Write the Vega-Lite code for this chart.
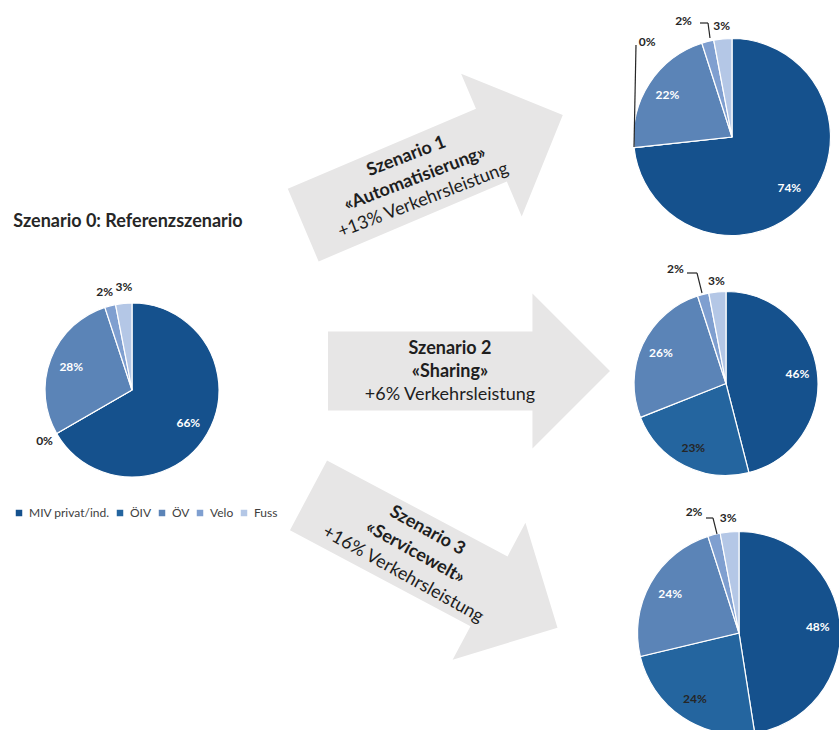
{
  "$schema": "https://vega.github.io/schema/vega-lite/v6.json",
  "width": 839,
  "height": 730,
  "padding": 0,
  "autosize": {"type": "none"},
  "background": "#ffffff",
  "config": {"view": {"stroke": null}, "font": "Lato", "text": {"font": "Lato"}},
  "datasets": {
    "pies": [
      {"scenario": "S0", "side": "Referenz", "row": "2", "mode": "MIV privat/ind.", "idx": 1, "value": 0.66},
      {"scenario": "S0", "side": "Referenz", "row": "2", "mode": "ÖIV", "idx": 2, "value": 0.0},
      {"scenario": "S0", "side": "Referenz", "row": "2", "mode": "ÖV", "idx": 3, "value": 0.28},
      {"scenario": "S0", "side": "Referenz", "row": "2", "mode": "Velo", "idx": 4, "value": 0.02},
      {"scenario": "S0", "side": "Referenz", "row": "2", "mode": "Fuss", "idx": 5, "value": 0.03},
      {"scenario": "S1", "side": "Szenario", "row": "1", "mode": "MIV privat/ind.", "idx": 1, "value": 0.74},
      {"scenario": "S1", "side": "Szenario", "row": "1", "mode": "ÖIV", "idx": 2, "value": 0.0},
      {"scenario": "S1", "side": "Szenario", "row": "1", "mode": "ÖV", "idx": 3, "value": 0.22},
      {"scenario": "S1", "side": "Szenario", "row": "1", "mode": "Velo", "idx": 4, "value": 0.02},
      {"scenario": "S1", "side": "Szenario", "row": "1", "mode": "Fuss", "idx": 5, "value": 0.03},
      {"scenario": "S2", "side": "Szenario", "row": "2", "mode": "MIV privat/ind.", "idx": 1, "value": 0.46},
      {"scenario": "S2", "side": "Szenario", "row": "2", "mode": "ÖIV", "idx": 2, "value": 0.23},
      {"scenario": "S2", "side": "Szenario", "row": "2", "mode": "ÖV", "idx": 3, "value": 0.26},
      {"scenario": "S2", "side": "Szenario", "row": "2", "mode": "Velo", "idx": 4, "value": 0.02},
      {"scenario": "S2", "side": "Szenario", "row": "2", "mode": "Fuss", "idx": 5, "value": 0.03},
      {"scenario": "S3", "side": "Szenario", "row": "3", "mode": "MIV privat/ind.", "idx": 1, "value": 0.48},
      {"scenario": "S3", "side": "Szenario", "row": "3", "mode": "ÖIV", "idx": 2, "value": 0.24},
      {"scenario": "S3", "side": "Szenario", "row": "3", "mode": "ÖV", "idx": 3, "value": 0.24},
      {"scenario": "S3", "side": "Szenario", "row": "3", "mode": "Velo", "idx": 4, "value": 0.02},
      {"scenario": "S3", "side": "Szenario", "row": "3", "mode": "Fuss", "idx": 5, "value": 0.03}
    ],
    "arrows": [
      {"side": "Pfeil", "row": "1", "title": "Szenario 1", "subtitle": "«Automatisierung»", "change": "+13% Verkehrsleistung"},
      {"side": "Pfeil", "row": "2", "title": "Szenario 2", "subtitle": "«Sharing»", "change": "+6% Verkehrsleistung"},
      {"side": "Pfeil", "row": "3", "title": "Szenario 3", "subtitle": "«Servicewelt»", "change": "+16% Verkehrsleistung"}
    ],
    "heading": [
      {"side": "Referenz", "row": "2", "text": "Szenario 0: Referenzszenario"}
    ]
  },
  "encoding": {
    "x": {"field": "side", "type": "nominal", "scale": {"type": "point", "domain": ["Referenz", "Pfeil", "Szenario"], "range": [132, 732], "padding": 0}, "axis": null},
    "y": {"field": "row", "type": "nominal", "scale": {"type": "point", "domain": ["1", "2", "3"], "range": [137, 633], "padding": 0}, "axis": null}
  },
  "layer": [
    {"data": {"name": "arrows"}, "transform": [{"filter": "datum.row === '1'"}],
     "mark": {"type": "point", "shape": "M-1,-0.28L0.45,-0.28L0.45,-0.55L1,0L0.45,0.55L0.45,0.28L-1,0.28Z", "size": 79524, "filled": true, "fill": "#e7e6e6", "strokeWidth": 0, "opacity": 1, "angle": -23, "xOffset": 1, "yOffset": 33},
     "encoding": {}},
    {"data": {"name": "arrows"}, "transform": [{"filter": "datum.row === '2'"}],
     "mark": {"type": "point", "shape": "M-1,-0.28L0.45,-0.28L0.45,-0.55L1,0L0.45,0.55L0.45,0.28L-1,0.28Z", "size": 79524, "filled": true, "fill": "#e7e6e6", "strokeWidth": 0, "opacity": 1, "angle": 0, "xOffset": 37, "yOffset": -14},
     "encoding": {}},
    {"data": {"name": "arrows"}, "transform": [{"filter": "datum.row === '3'"}],
     "mark": {"type": "point", "shape": "M-1,-0.28L0.45,-0.28L0.45,-0.55L1,0L0.45,0.55L0.45,0.28L-1,0.28Z", "size": 79524, "filled": true, "fill": "#e7e6e6", "strokeWidth": 0, "opacity": 1, "angle": 28, "xOffset": 1, "yOffset": -71.5},
     "encoding": {}},

    {"data": {"name": "arrows"}, "transform": [{"filter": "datum.row === '1'"}],
     "mark": {"type": "text", "fontSize": 18, "fontWeight": "bold", "color": "#1e1e1e", "align": "center", "baseline": "middle", "angle": -21, "xOffset": 1, "yOffset": 33, "dx": -20, "dy": -22},
     "encoding": {"text": {"field": "title"}}},
    {"data": {"name": "arrows"}, "transform": [{"filter": "datum.row === '1'"}],
     "mark": {"type": "text", "fontSize": 18, "fontWeight": "bold", "color": "#1e1e1e", "align": "center", "baseline": "middle", "angle": -21, "xOffset": 1, "yOffset": 33, "dx": -20, "dy": 2},
     "encoding": {"text": {"field": "subtitle"}}},
    {"data": {"name": "arrows"}, "transform": [{"filter": "datum.row === '1'"}],
     "mark": {"type": "text", "fontSize": 18, "color": "#1e1e1e", "align": "center", "baseline": "middle", "angle": -21, "xOffset": 1, "yOffset": 33, "dx": -20, "dy": 25},
     "encoding": {"text": {"field": "change"}}},

    {"data": {"name": "arrows"}, "transform": [{"filter": "datum.row === '2'"}],
     "mark": {"type": "text", "fontSize": 18, "fontWeight": "bold", "color": "#1e1e1e", "align": "center", "baseline": "middle", "xOffset": 37, "yOffset": -14, "dx": -19, "dy": -22},
     "encoding": {"text": {"field": "title"}}},
    {"data": {"name": "arrows"}, "transform": [{"filter": "datum.row === '2'"}],
     "mark": {"type": "text", "fontSize": 18, "fontWeight": "bold", "color": "#1e1e1e", "align": "center", "baseline": "middle", "xOffset": 37, "yOffset": -14, "dx": -19, "dy": 1},
     "encoding": {"text": {"field": "subtitle"}}},
    {"data": {"name": "arrows"}, "transform": [{"filter": "datum.row === '2'"}],
     "mark": {"type": "text", "fontSize": 18, "color": "#1e1e1e", "align": "center", "baseline": "middle", "xOffset": 37, "yOffset": -14, "dx": -19, "dy": 24},
     "encoding": {"text": {"field": "change"}}},

    {"data": {"name": "arrows"}, "transform": [{"filter": "datum.row === '3'"}],
     "mark": {"type": "text", "fontSize": 18, "fontWeight": "bold", "color": "#1e1e1e", "align": "center", "baseline": "middle", "angle": 29, "xOffset": 1, "yOffset": -71.5, "dx": -20, "dy": -24},
     "encoding": {"text": {"field": "title"}}},
    {"data": {"name": "arrows"}, "transform": [{"filter": "datum.row === '3'"}],
     "mark": {"type": "text", "fontSize": 18, "fontWeight": "bold", "color": "#1e1e1e", "align": "center", "baseline": "middle", "angle": 29, "xOffset": 1, "yOffset": -71.5, "dx": -20, "dy": 1},
     "encoding": {"text": {"field": "subtitle"}}},
    {"data": {"name": "arrows"}, "transform": [{"filter": "datum.row === '3'"}],
     "mark": {"type": "text", "fontSize": 18, "color": "#1e1e1e", "align": "center", "baseline": "middle", "angle": 29, "xOffset": 1, "yOffset": -71.5, "dx": -20, "dy": 26},
     "encoding": {"text": {"field": "change"}}},

    {"data": {"name": "heading"},
     "mark": {"type": "text", "fontSize": 18, "fontWeight": "bold", "color": "#262626", "align": "center", "baseline": "middle", "dx": -4, "dy": -163},
     "encoding": {"text": {"field": "text"}}},

    {"data": {"name": "pies"}, "transform": [{"filter": "datum.scenario === 'S0'"}],
     "mark": {"type": "arc", "outerRadius": 87, "stroke": "#ffffff", "strokeWidth": 1.2, "yOffset": 5},
     "encoding": {
       "theta": {"field": "value", "type": "quantitative", "stack": "normalize"},
       "order": {"field": "idx", "type": "quantitative"},
       "color": {"field": "mode", "type": "nominal",
         "scale": {"domain": ["MIV privat/ind.", "ÖIV", "ÖV", "Velo", "Fuss"], "range": ["#15518d", "#24659f", "#5b84b7", "#7f9fd0", "#b4c7e6"]},
         "legend": {"orient": "none", "legendX": 13, "legendY": 507, "direction": "horizontal", "title": null, "symbolType": "square", "symbolSize": 42, "symbolStrokeWidth": 0, "labelFontSize": 12, "labelFont": "Lato", "labelColor": "#404040", "labelOffset": 4, "columnPadding": 4, "padding": 0}}
     }},
    {"data": {"name": "pies"}, "transform": [{"filter": "datum.scenario === 'S1'"}],
     "mark": {"type": "arc", "outerRadius": 98.5, "stroke": "#ffffff", "strokeWidth": 1.2},
     "encoding": {
       "theta": {"field": "value", "type": "quantitative", "stack": "normalize"},
       "order": {"field": "idx", "type": "quantitative"},
       "color": {"field": "mode", "type": "nominal",
         "scale": {"domain": ["MIV privat/ind.", "ÖIV", "ÖV", "Velo", "Fuss"], "range": ["#15518d", "#24659f", "#5b84b7", "#7f9fd0", "#b4c7e6"]},
         "legend": {"orient": "none", "legendX": 13, "legendY": 507, "direction": "horizontal", "title": null, "symbolType": "square", "symbolSize": 42, "symbolStrokeWidth": 0, "labelFontSize": 12, "labelFont": "Lato", "labelColor": "#404040", "labelOffset": 4, "columnPadding": 4, "padding": 0}}
     }},
    {"data": {"name": "pies"}, "transform": [{"filter": "datum.scenario === 'S2'"}],
     "mark": {"type": "arc", "outerRadius": 92, "stroke": "#ffffff", "strokeWidth": 1.2, "xOffset": -6, "yOffset": -1.5},
     "encoding": {
       "theta": {"field": "value", "type": "quantitative", "stack": "normalize"},
       "order": {"field": "idx", "type": "quantitative"},
       "color": {"field": "mode", "type": "nominal",
         "scale": {"domain": ["MIV privat/ind.", "ÖIV", "ÖV", "Velo", "Fuss"], "range": ["#15518d", "#24659f", "#5b84b7", "#7f9fd0", "#b4c7e6"]},
         "legend": {"orient": "none", "legendX": 13, "legendY": 507, "direction": "horizontal", "title": null, "symbolType": "square", "symbolSize": 42, "symbolStrokeWidth": 0, "labelFontSize": 12, "labelFont": "Lato", "labelColor": "#404040", "labelOffset": 4, "columnPadding": 4, "padding": 0}}
     }},
    {"data": {"name": "pies"}, "transform": [{"filter": "datum.scenario === 'S3'"}],
     "mark": {"type": "arc", "outerRadius": 101.5, "stroke": "#ffffff", "strokeWidth": 1.2, "xOffset": 7},
     "encoding": {
       "theta": {"field": "value", "type": "quantitative", "stack": "normalize"},
       "order": {"field": "idx", "type": "quantitative"},
       "color": {"field": "mode", "type": "nominal",
         "scale": {"domain": ["MIV privat/ind.", "ÖIV", "ÖV", "Velo", "Fuss"], "range": ["#15518d", "#24659f", "#5b84b7", "#7f9fd0", "#b4c7e6"]},
         "legend": {"orient": "none", "legendX": 13, "legendY": 507, "direction": "horizontal", "title": null, "symbolType": "square", "symbolSize": 42, "symbolStrokeWidth": 0, "labelFontSize": 12, "labelFont": "Lato", "labelColor": "#404040", "labelOffset": 4, "columnPadding": 4, "padding": 0}}
     }},

    {"data": {"name": "pies"}, "transform": [{"filter": "datum.scenario === 'S0'"}],
     "mark": {"type": "text", "radius": 65, "fontSize": 12, "fontWeight": "bold", "align": "center", "baseline": "middle", "yOffset": 5},
     "encoding": {
       "theta": {"field": "value", "type": "quantitative", "stack": "normalize"},
       "order": {"field": "idx", "type": "quantitative"},
       "text": {"field": "value", "type": "quantitative", "format": ".0%"},
       "color": {"condition": {"test": "datum.mode === 'ÖIV'", "value": "#262626"}, "value": "#ffffff"},
       "opacity": {"condition": {"test": "datum.value >= 0.1", "value": 1}, "value": 0}
     }},
    {"data": {"name": "pies"}, "transform": [{"filter": "datum.scenario === 'S1'"}],
     "mark": {"type": "text", "radius": 77, "fontSize": 12, "fontWeight": "bold", "align": "center", "baseline": "middle"},
     "encoding": {
       "theta": {"field": "value", "type": "quantitative", "stack": "normalize"},
       "order": {"field": "idx", "type": "quantitative"},
       "text": {"field": "value", "type": "quantitative", "format": ".0%"},
       "color": {"condition": {"test": "datum.mode === 'ÖIV'", "value": "#262626"}, "value": "#ffffff"},
       "opacity": {"condition": {"test": "datum.value >= 0.1", "value": 1}, "value": 0}
     }},
    {"data": {"name": "pies"}, "transform": [{"filter": "datum.scenario === 'S2'"}],
     "mark": {"type": "text", "radius": 72, "fontSize": 12, "fontWeight": "bold", "align": "center", "baseline": "middle", "xOffset": -6, "yOffset": -1.5},
     "encoding": {
       "theta": {"field": "value", "type": "quantitative", "stack": "normalize"},
       "order": {"field": "idx", "type": "quantitative"},
       "text": {"field": "value", "type": "quantitative", "format": ".0%"},
       "color": {"condition": {"test": "datum.mode === 'ÖIV'", "value": "#262626"}, "value": "#ffffff"},
       "opacity": {"condition": {"test": "datum.value >= 0.1", "value": 1}, "value": 0}
     }},
    {"data": {"name": "pies"}, "transform": [{"filter": "datum.scenario === 'S3'"}],
     "mark": {"type": "text", "radius": 79, "fontSize": 12, "fontWeight": "bold", "align": "center", "baseline": "middle", "xOffset": 7},
     "encoding": {
       "theta": {"field": "value", "type": "quantitative", "stack": "normalize"},
       "order": {"field": "idx", "type": "quantitative"},
       "text": {"field": "value", "type": "quantitative", "format": ".0%"},
       "color": {"condition": {"test": "datum.mode === 'ÖIV'", "value": "#262626"}, "value": "#ffffff"},
       "opacity": {"condition": {"test": "datum.value >= 0.1", "value": 1}, "value": 0}
     }},

    {"data": {"name": "pies"}, "transform": [{"filter": "datum.scenario === 'S0'"}],
     "mark": {"type": "text", "radius": 101, "fontSize": 12, "fontWeight": "bold", "align": "center", "baseline": "middle", "color": "#262626", "yOffset": 5},
     "encoding": {
       "theta": {"field": "value", "type": "quantitative", "stack": "normalize"},
       "order": {"field": "idx", "type": "quantitative"},
       "text": {"field": "value", "type": "quantitative", "format": ".0%"},
       "opacity": {"condition": {"test": "datum.mode === 'ÖIV'", "value": 1}, "value": 0}
     }},
    {"data": {"name": "pies"}, "transform": [{"filter": "datum.scenario === 'S0'"}],
     "mark": {"type": "text", "radius": 101, "fontSize": 12, "fontWeight": "bold", "align": "center", "baseline": "middle", "color": "#262626", "yOffset": 5, "dx": -2},
     "encoding": {
       "theta": {"field": "value", "type": "quantitative", "stack": "normalize"},
       "order": {"field": "idx", "type": "quantitative"},
       "text": {"field": "value", "type": "quantitative", "format": ".0%"},
       "opacity": {"condition": {"test": "datum.mode === 'Velo'", "value": 1}, "value": 0}
     }},
    {"data": {"name": "pies"}, "transform": [{"filter": "datum.scenario === 'S0'"}],
     "mark": {"type": "text", "radius": 101, "fontSize": 12, "fontWeight": "bold", "align": "center", "baseline": "middle", "color": "#262626", "yOffset": 5, "dx": 1.5, "dy": -2},
     "encoding": {
       "theta": {"field": "value", "type": "quantitative", "stack": "normalize"},
       "order": {"field": "idx", "type": "quantitative"},
       "text": {"field": "value", "type": "quantitative", "format": ".0%"},
       "opacity": {"condition": {"test": "datum.mode === 'Fuss'", "value": 1}, "value": 0}
     }},
    {"data": {"name": "pies"}, "transform": [{"filter": "datum.scenario === 'S1'"}],
     "mark": {"type": "text", "radius": 111.5, "fontSize": 12, "fontWeight": "bold", "align": "center", "baseline": "middle", "color": "#262626"},
     "encoding": {
       "theta": {"field": "value", "type": "quantitative", "stack": "normalize"},
       "order": {"field": "idx", "type": "quantitative"},
       "text": {"field": "value", "type": "quantitative", "format": ".0%"},
       "opacity": {"condition": {"test": "datum.mode === 'Fuss'", "value": 1}, "value": 0}
     }},
    {"data": {"name": "pies"}, "transform": [{"filter": "datum.scenario === 'S1'"}],
     "mark": {"type": "text", "radius": 111.5, "fontSize": 12, "fontWeight": "bold", "align": "center", "baseline": "middle", "color": "#262626", "dx": -21, "dy": -8},
     "encoding": {
       "theta": {"field": "value", "type": "quantitative", "stack": "normalize"},
       "order": {"field": "idx", "type": "quantitative"},
       "text": {"field": "value", "type": "quantitative", "format": ".0%"},
       "opacity": {"condition": {"test": "datum.mode === 'Velo'", "value": 1}, "value": 0}
     }},
    {"data": {"name": "pies"}, "transform": [{"filter": "datum.scenario === 'S1'"}],
     "mark": {"type": "text", "radius": 111.5, "fontSize": 12, "fontWeight": "bold", "align": "center", "baseline": "middle", "color": "#262626", "dx": 26, "dy": -107},
     "encoding": {
       "theta": {"field": "value", "type": "quantitative", "stack": "normalize"},
       "order": {"field": "idx", "type": "quantitative"},
       "text": {"field": "value", "type": "quantitative", "format": ".0%"},
       "opacity": {"condition": {"test": "datum.mode === 'ÖIV'", "value": 1}, "value": 0}
     }},
    {"data": {"name": "pies"}, "transform": [{"filter": "datum.scenario === 'S2'"}],
     "mark": {"type": "text", "radius": 103, "fontSize": 12, "fontWeight": "bold", "align": "center", "baseline": "middle", "color": "#262626", "xOffset": -6, "yOffset": -1.5},
     "encoding": {
       "theta": {"field": "value", "type": "quantitative", "stack": "normalize"},
       "order": {"field": "idx", "type": "quantitative"},
       "text": {"field": "value", "type": "quantitative", "format": ".0%"},
       "opacity": {"condition": {"test": "datum.mode === 'Fuss'", "value": 1}, "value": 0}
     }},
    {"data": {"name": "pies"}, "transform": [{"filter": "datum.scenario === 'S2'"}],
     "mark": {"type": "text", "radius": 103, "fontSize": 12, "fontWeight": "bold", "align": "center", "baseline": "middle", "color": "#262626", "xOffset": -6, "yOffset": -1.5, "dx": -25, "dy": -15},
     "encoding": {
       "theta": {"field": "value", "type": "quantitative", "stack": "normalize"},
       "order": {"field": "idx", "type": "quantitative"},
       "text": {"field": "value", "type": "quantitative", "format": ".0%"},
       "opacity": {"condition": {"test": "datum.mode === 'Velo'", "value": 1}, "value": 0}
     }},
    {"data": {"name": "pies"}, "transform": [{"filter": "datum.scenario === 'S3'"}],
     "mark": {"type": "text", "radius": 115.5, "fontSize": 12, "fontWeight": "bold", "align": "center", "baseline": "middle", "color": "#262626", "xOffset": 7},
     "encoding": {
       "theta": {"field": "value", "type": "quantitative", "stack": "normalize"},
       "order": {"field": "idx", "type": "quantitative"},
       "text": {"field": "value", "type": "quantitative", "format": ".0%"},
       "opacity": {"condition": {"test": "datum.mode === 'Fuss'", "value": 1}, "value": 0}
     }},
    {"data": {"name": "pies"}, "transform": [{"filter": "datum.scenario === 'S3'"}],
     "mark": {"type": "text", "radius": 115.5, "fontSize": 12, "fontWeight": "bold", "align": "center", "baseline": "middle", "color": "#262626", "xOffset": 7, "dx": -16.5, "dy": -9},
     "encoding": {
       "theta": {"field": "value", "type": "quantitative", "stack": "normalize"},
       "order": {"field": "idx", "type": "quantitative"},
       "text": {"field": "value", "type": "quantitative", "format": ".0%"},
       "opacity": {"condition": {"test": "datum.mode === 'Velo'", "value": 1}, "value": 0}
     }},

    {"data": {"name": "pies"}, "transform": [{"filter": "datum.scenario === 'S1' && datum.mode === 'ÖIV'"}],
     "mark": {"type": "rule", "color": "#262626", "strokeWidth": 1.2, "xOffset": -98, "yOffset": 10, "x2Offset": -96, "y2Offset": -92},
     "encoding": {"x2": {"field": "side"}, "y2": {"field": "row"}}},
    {"data": {"name": "pies"}, "transform": [{"filter": "datum.scenario === 'S1' && datum.mode === 'Velo'"}],
     "mark": {"type": "rule", "color": "#262626", "strokeWidth": 1.2, "xOffset": -22, "yOffset": -99, "x2Offset": -24, "y2Offset": -114},
     "encoding": {"x2": {"field": "side"}, "y2": {"field": "row"}}},
    {"data": {"name": "pies"}, "transform": [{"filter": "datum.scenario === 'S1' && datum.mode === 'Velo'"}],
     "mark": {"type": "rule", "color": "#262626", "strokeWidth": 1.2, "xOffset": -24, "yOffset": -114, "x2Offset": -32, "y2Offset": -114},
     "encoding": {"x2": {"field": "side"}, "y2": {"field": "row"}}},
    {"data": {"name": "pies"}, "transform": [{"filter": "datum.scenario === 'S2' && datum.mode === 'Velo'"}],
     "mark": {"type": "rule", "color": "#262626", "strokeWidth": 1.2, "xOffset": -30, "yOffset": -92, "x2Offset": -35, "y2Offset": -112},
     "encoding": {"x2": {"field": "side"}, "y2": {"field": "row"}}},
    {"data": {"name": "pies"}, "transform": [{"filter": "datum.scenario === 'S2' && datum.mode === 'Velo'"}],
     "mark": {"type": "rule", "color": "#262626", "strokeWidth": 1.2, "xOffset": -35, "yOffset": -112, "x2Offset": -45, "y2Offset": -112},
     "encoding": {"x2": {"field": "side"}, "y2": {"field": "row"}}},
    {"data": {"name": "pies"}, "transform": [{"filter": "datum.scenario === 'S3' && datum.mode === 'Velo'"}],
     "mark": {"type": "rule", "color": "#262626", "strokeWidth": 1.2, "xOffset": -15, "yOffset": -99, "x2Offset": -19, "y2Offset": -115},
     "encoding": {"x2": {"field": "side"}, "y2": {"field": "row"}}},
    {"data": {"name": "pies"}, "transform": [{"filter": "datum.scenario === 'S3' && datum.mode === 'Velo'"}],
     "mark": {"type": "rule", "color": "#262626", "strokeWidth": 1.2, "xOffset": -19, "yOffset": -115, "x2Offset": -26, "y2Offset": -115},
     "encoding": {"x2": {"field": "side"}, "y2": {"field": "row"}}}
  ]
}
